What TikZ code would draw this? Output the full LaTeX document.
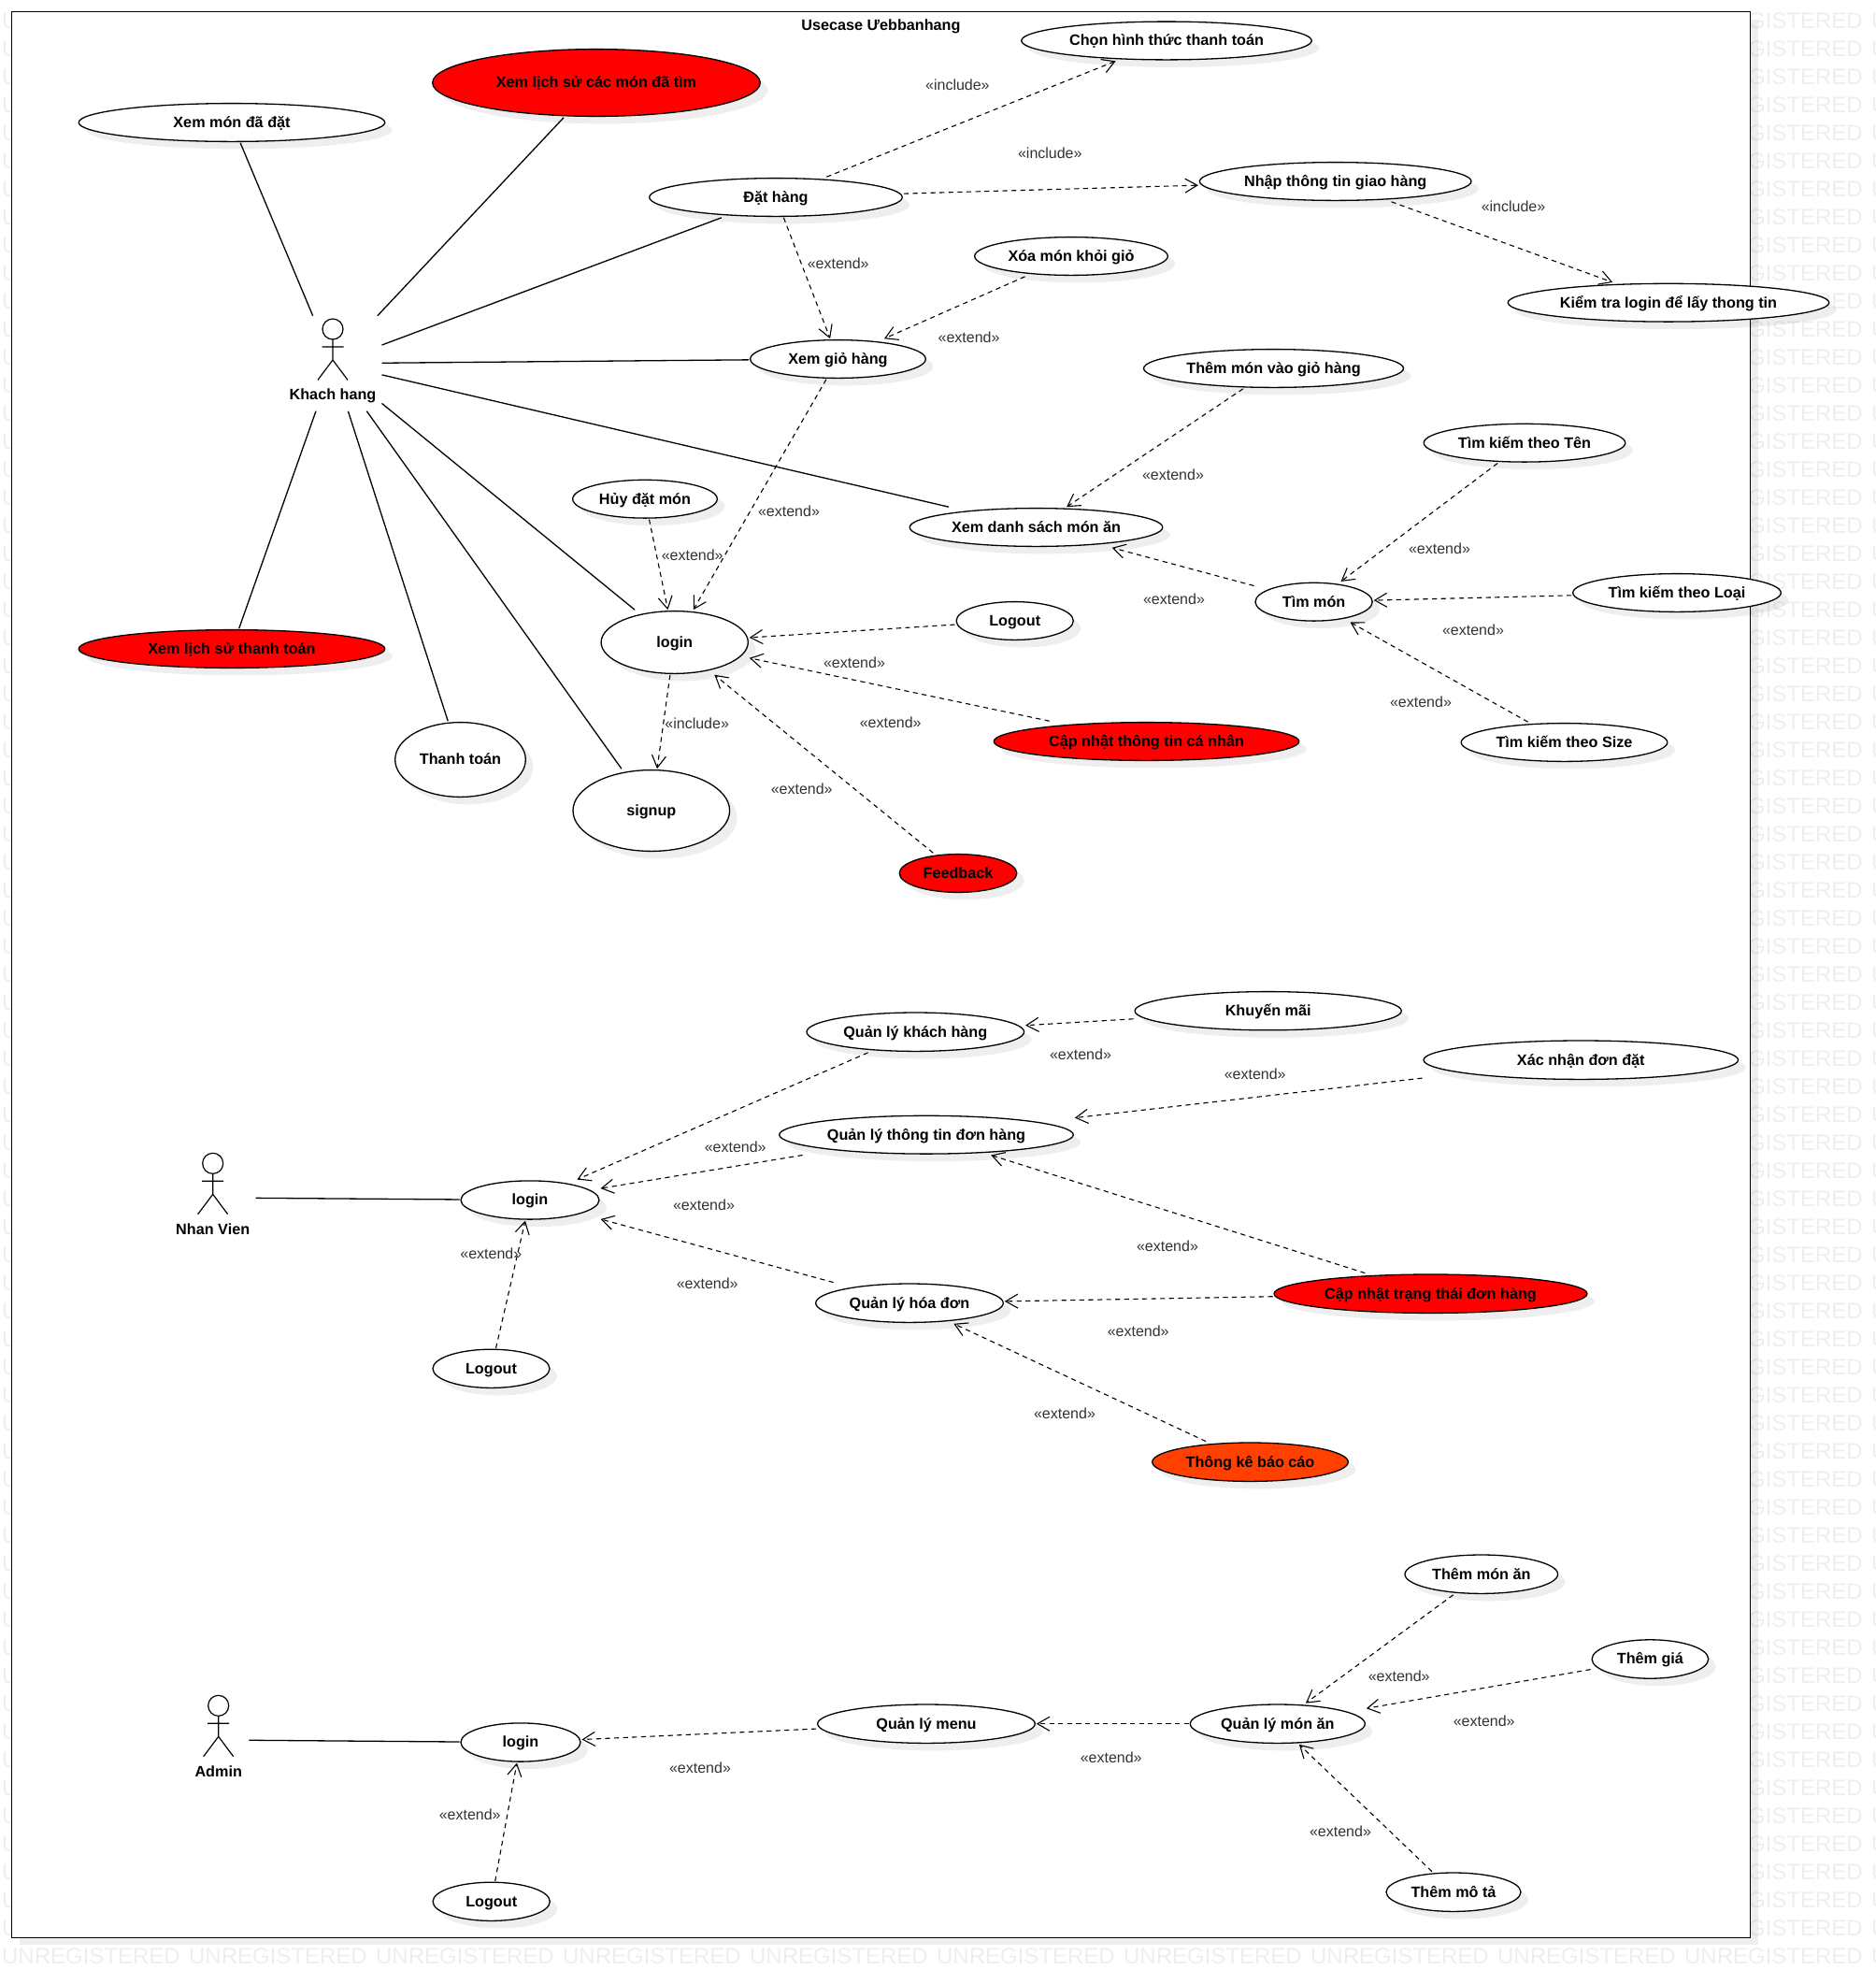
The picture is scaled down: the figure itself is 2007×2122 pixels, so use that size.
\documentclass[tikz,border=0pt]{standalone}
\usepackage{fontspec}
\setmainfont{Liberation Sans}
\usetikzlibrary{shapes.geometric,shadows,arrows.meta}
\definecolor{wmgray}{HTML}{EEEEEE}
\definecolor{labgray}{HTML}{333333}
\definecolor{orangered}{RGB}{255,64,0}
\tikzset{
  softshadow/.style={general shadow={fill=black,opacity=.065,shadow xshift=4pt,shadow yshift=-4pt}},
  sysframe/.style={rectangle,draw=black,fill=white,line width=.7pt,inner sep=0pt,softshadow},
  uc/.style={ellipse,draw=black,fill=white,line width=.65pt,inner sep=0pt,softshadow,
    font=\fontsize{8.1}{10}\selectfont\bfseries,text=black,text height=7.4pt,text depth=2pt},
  ucred/.style={uc,fill=red},
  ucorange/.style={uc,fill=orangered},
  ucbox/.style={rectangle,inner sep=0pt,outer sep=.4pt},
  boldtext/.style={inner sep=0pt,font=\fontsize{8.1}{10}\selectfont\bfseries,text=black,text height=7.4pt,text depth=2pt},
  steretype/.style={inner sep=0pt,font=\fontsize{8}{10}\selectfont,text=labgray,text height=7.4pt,text depth=2pt},
  watermark/.style={anchor=base west,inner sep=0pt,font=\fontsize{12}{14}\selectfont,text=wmgray},
  actorbox/.style={rectangle,inner sep=0pt,outer sep=0pt},
  stick/.style={draw=black,line width=.6pt},
  assoc/.style={draw=black,line width=.65pt},
  dep/.style={draw=black,line width=.55pt,dash pattern=on 2.6pt off 2.2pt,
    -{Straight Barb[length=6.5pt,width=7.5pt,line width=.55pt]}},
}
% #1 style, #2 name, #3 x, #4 y, #5 rx, #6 ry, #7 text (all in reference pixels)
\newcommand{\usecase}[7][uc]{%
  \node[#1,minimum width={#5pt-.7pt},minimum height={#6pt-.6pt}] (#2-shape) at (#3,#4) {#7};
  \node[ucbox,minimum width=#5pt,minimum height=#6pt] (#2) at (#3,#4) {};
}
\newcommand{\stickactor}[6]{%
  % name, head x, head y, box half width (px), label offset, label
  \begin{scope}[shift={(#2,#3)}]
    \draw[stick] (0,0) ellipse [x radius=11,y radius=11];
    \draw[stick] (0,11) -- (0,33) (-11.5,19) -- (11.5,19) (-16,54.4) -- (0,33) -- (16,54.4);
  \end{scope}
  \node[actorbox,minimum width=#4pt,minimum height=51pt] (#1) at (#2,#3+36.7) {};
  \node[boldtext] (#1-label) at (#2,#3+#5) {#6};
}
\begin{document}
\begin{tikzpicture}[x=0.5pt,y=-0.5pt]
\useasboundingbox (0,0) rectangle (2007,2122);
\clip (0,0) rectangle (2007,2122);
% watermark
\foreach \r in {0,...,68}{
  \pgfmathsetmacro{\yy}{30.3+30*\r}
  \node[watermark] (wma\r) at (1.7,\yy) {UNREGISTERED};
  \node[watermark] (wmb\r) at (1801.7,\yy) {UNREGISTERED};
  \node[watermark] (wmc\r) at (2001.7,\yy) {UNREGISTERED};
}
\foreach \c in {0,...,10}{
  \pgfmathsetmacro{\xx}{1.7+200*\c}
  \node[watermark] (wmd\c) at (\xx,2100.3) {UNREGISTERED};
}
% frame
\node[sysframe,minimum width=930.1pt,minimum height=1029.9pt] (sys) at (942.6,1042.4) {};
\node[boldtext] (title) at (942.5,27.5) {Usecase Ưebbanhang};
% actors
\stickactor{khach}{356}{352}{52.5}{70.5}{Khach hang}
\stickactor{nhan}{227.7}{1244.3}{46}{71}{Nhan Vien}
\stickactor{admin}{233.7}{1824.3}{32.6}{71}{Admin}
% customer use cases
\usecase{mondat}{248}{131}{164.5}{21}{Xem món đã đặt}
\usecase[ucred]{lsmon}{638}{88.5}{176}{36.5}{Xem lịch sử các món đã tìm}
\usecase{dathang}{830}{211}{136}{21}{Đặt hàng}
\usecase{giohang}{896.5}{384}{94.5}{21}{Xem giỏ hàng}
\usecase{huy}{690}{533.7}{78}{21}{Hủy đặt món}
\usecase{login1}{721.7}{687}{79.3}{34}{login}
\usecase{signup}{696.8}{867}{84.5}{44}{signup}
\usecase[ucred]{feedback}{1025}{934}{63.5}{21}{Feedback}
\usecase[ucred]{lstt}{248}{694}{164.5}{21}{Xem lịch sử thanh toán}
\usecase{thanhtoan}{492.5}{812.5}{70.5}{40.5}{Thanh toán}
\usecase{chon}{1248}{43.5}{156}{21}{Chọn hình thức thanh toán}
\usecase{nhap}{1428.7}{194}{146}{21}{Nhập thông tin giao hàng}
\usecase{xoa}{1146}{274}{104}{21}{Xóa món khỏi giỏ}
\usecase{kiemtra}{1785}{323.7}{172.5}{21}{Kiểm tra login để lấy thong tin}
\usecase{themvao}{1362.5}{394}{139.7}{21}{Thêm món vào giỏ hàng}
\usecase{ten}{1631}{473.7}{108.5}{21}{Tìm kiếm theo Tên}
\usecase{dsmon}{1108.5}{564}{136}{21}{Xem danh sách món ăn}
\usecase{timmon}{1405.6}{643.7}{63.3}{21}{Tìm món}
\usecase{loai}{1794}{634}{112}{21}{Tìm kiếm theo Loại}
\usecase{logout1}{1085.7}{664}{63.3}{21}{Logout}
\usecase{size}{1673.5}{794}{111}{21}{Tìm kiếm theo Size}
\usecase[ucred]{capnhat}{1226.5}{793}{164}{21}{Cập nhật thông tin cá nhân}
% staff use cases
\usecase{login2}{567}{1283.5}{74.7}{21.2}{login}
\usecase{logout2}{525.5}{1463.8}{63.2}{21.2}{Logout}
\usecase{qlkh}{979.3}{1103.7}{117}{21.3}{Quản lý khách hàng}
\usecase{qltt}{991}{1213.7}{158}{21}{Quản lý thông tin đơn hàng}
\usecase{qlhd}{973}{1393.7}{101}{21.3}{Quản lý hóa đơn}
\usecase{khuyen}{1356.7}{1081.2}{143.3}{21.2}{Khuyến mãi}
\usecase{xacnhan}{1691.3}{1133.7}{169}{21.3}{Xác nhận đơn đặt}
\usecase[ucred]{cntrang}{1530.5}{1383.7}{168.2}{21.3}{Cập nhật trạng thái đơn hàng}
\usecase[ucorange]{thongke}{1337.5}{1563.7}{105.5}{21.3}{Thông kê báo cáo}
% admin use cases
\usecase{login3}{557}{1863.5}{64.7}{21.2}{login}
\usecase{logout3}{525.7}{2033.8}{63.3}{21.2}{Logout}
\usecase{qlmenu}{991}{1843.7}{117}{21.3}{Quản lý menu}
\usecase{qlmon}{1366.8}{1843.7}{94.2}{21.3}{Quản lý món ăn}
\usecase{them}{1584.8}{1683.7}{82.5}{21.3}{Thêm món ăn}
\usecase{gia}{1765.4}{1774.5}{63}{21.3}{Thêm giá}
\usecase{mota}{1555}{2023.7}{72.7}{21.3}{Thêm mô tả}
% associations
\foreach \a/\b in {khach/mondat,khach/lsmon,khach/dathang,khach/giohang,khach/dsmon,khach/login1,khach/signup,khach/thanhtoan,khach/lstt,nhan/login2,admin/login3}
  \draw[assoc] (\a) -- (\b);
% dependencies
\foreach \a/\b in {dathang/chon,dathang/nhap,nhap/kiemtra,dathang/giohang,xoa/giohang,giohang/login1,huy/login1,logout1/login1,capnhat/login1,feedback/login1,login1/signup,themvao/dsmon,timmon/dsmon,ten/timmon,loai/timmon,size/timmon,qlkh/login2,qltt/login2,qlhd/login2,logout2/login2,khuyen/qlkh,xacnhan/qltt,cntrang/qltt,cntrang/qlhd,thongke/qlhd,qlmenu/login3,logout3/login3,qlmon/qlmenu,them/qlmon,gia/qlmon,mota/qlmon}
  \draw[dep] (\a) -- (\b);
% stereotype labels
\foreach \x/\y [count=\i] in {1024.4/91,1123.3/163.8,1619/221.4,745.7/773.7}
  \node[steretype] (inc\i) at (\x,\y) {«include»};
\foreach \x/\y [count=\i] in {896.7/282.5,1036.6/361,1255/507.6,1540/586.6,1256/640.6,1576/673.7,844/546.7,740.7/593.7,914/708.7,952.7/772.7,857.7/843.7,1520/750.7,525.3/1340.7,786.7/1226.7,753/1288.7,756.7/1372.7,1156/1127.7,1342.7/1148.7,1249/1332.7,1217.7/1423.7,1139/1511.7,502.7/1940.7,749/1890.7,1188.7/1880.3,1496.7/1792.7,1587.7/1841,1434/1958.7}
  \node[steretype] (ext\i) at (\x,\y) {«extend»};
\end{tikzpicture}
\end{document}
